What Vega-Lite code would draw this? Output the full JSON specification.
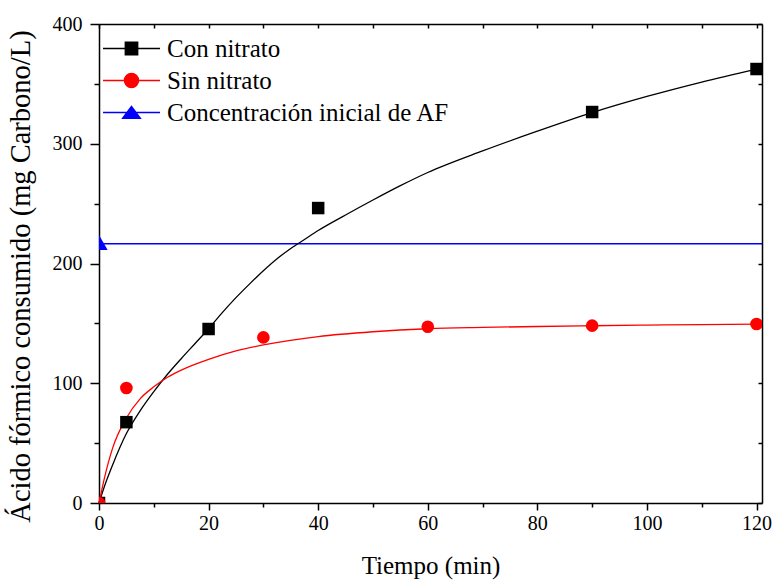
{
  "$schema": "https://vega.github.io/schema/vega-lite/v6.json",
  "width": 663,
  "height": 479,
  "autosize": {"type": "none"},
  "padding": {"left": 99, "top": 24, "right": 14, "bottom": 77},
  "background": "white",
  "config": {
    "view": {"stroke": null},
    "font": "Liberation Serif",
    "axis": {
      "domainColor": "black", "domainWidth": 1.5, "tickColor": "black", "tickWidth": 1.5,
      "grid": false, "labelFont": "Liberation Serif", "labelFontSize": 20, "labelColor": "black",
      "titleFont": "Liberation Serif", "titleFontSize": 25, "titleFontWeight": "normal", "titleColor": "black",
      "labelOverlap": false, "labelFlush": false
    }
  },
  "datasets": {
    "sq": [
      {"serie": "Con nitrato", "t": 0, "c": 0},
      {"serie": "Con nitrato", "t": 5, "c": 67.5},
      {"serie": "Con nitrato", "t": 20, "c": 145.3},
      {"serie": "Con nitrato", "t": 40, "c": 246.3},
      {"serie": "Con nitrato", "t": 90, "c": 326.5},
      {"serie": "Con nitrato", "t": 120, "c": 362.4}
    ],
    "ci": [
      {"serie": "Sin nitrato", "t": 0, "c": 0},
      {"serie": "Sin nitrato", "t": 5, "c": 96},
      {"serie": "Sin nitrato", "t": 30, "c": 138.3},
      {"serie": "Sin nitrato", "t": 60, "c": 147.2},
      {"serie": "Sin nitrato", "t": 90, "c": 148.1},
      {"serie": "Sin nitrato", "t": 120, "c": 149.5}
    ],
    "tri": [
      {"serie": "Concentración inicial de AF", "t": 0, "c": 217.5}
    ],
    "fit": [
      {"serie": "Con nitrato", "t": 0, "c": 0},
      {"serie": "Con nitrato", "t": 1, "c": 14},
      {"serie": "Con nitrato", "t": 2.5, "c": 32},
      {"serie": "Con nitrato", "t": 5, "c": 58},
      {"serie": "Con nitrato", "t": 7.5, "c": 77},
      {"serie": "Con nitrato", "t": 10, "c": 93},
      {"serie": "Con nitrato", "t": 12.5, "c": 107.5},
      {"serie": "Con nitrato", "t": 15, "c": 120.5},
      {"serie": "Con nitrato", "t": 17.5, "c": 133},
      {"serie": "Con nitrato", "t": 20, "c": 145.5},
      {"serie": "Con nitrato", "t": 22.5, "c": 159},
      {"serie": "Con nitrato", "t": 25, "c": 171.5},
      {"serie": "Con nitrato", "t": 27.5, "c": 183},
      {"serie": "Con nitrato", "t": 30, "c": 194},
      {"serie": "Con nitrato", "t": 32.5, "c": 204},
      {"serie": "Con nitrato", "t": 35, "c": 212.5},
      {"serie": "Con nitrato", "t": 37.5, "c": 220},
      {"serie": "Con nitrato", "t": 40, "c": 227.5},
      {"serie": "Con nitrato", "t": 45, "c": 240.5},
      {"serie": "Con nitrato", "t": 50, "c": 253},
      {"serie": "Con nitrato", "t": 55, "c": 265},
      {"serie": "Con nitrato", "t": 60, "c": 276},
      {"serie": "Con nitrato", "t": 70, "c": 294},
      {"serie": "Con nitrato", "t": 80, "c": 310.5},
      {"serie": "Con nitrato", "t": 90, "c": 326},
      {"serie": "Con nitrato", "t": 100, "c": 339.5},
      {"serie": "Con nitrato", "t": 110, "c": 351.5},
      {"serie": "Con nitrato", "t": 120, "c": 362.4},
      {"serie": "Sin nitrato", "t": 0, "c": 0},
      {"serie": "Sin nitrato", "t": 1, "c": 21},
      {"serie": "Sin nitrato", "t": 2.5, "c": 46},
      {"serie": "Sin nitrato", "t": 5, "c": 71},
      {"serie": "Sin nitrato", "t": 7.5, "c": 87},
      {"serie": "Sin nitrato", "t": 10, "c": 97},
      {"serie": "Sin nitrato", "t": 12.5, "c": 105},
      {"serie": "Sin nitrato", "t": 15, "c": 111},
      {"serie": "Sin nitrato", "t": 20, "c": 120},
      {"serie": "Sin nitrato", "t": 25, "c": 127},
      {"serie": "Sin nitrato", "t": 30, "c": 132},
      {"serie": "Sin nitrato", "t": 40, "c": 139},
      {"serie": "Sin nitrato", "t": 50, "c": 143},
      {"serie": "Sin nitrato", "t": 60, "c": 145.5},
      {"serie": "Sin nitrato", "t": 70, "c": 146.6},
      {"serie": "Sin nitrato", "t": 80, "c": 147.4},
      {"serie": "Sin nitrato", "t": 90, "c": 148},
      {"serie": "Sin nitrato", "t": 100, "c": 148.6},
      {"serie": "Sin nitrato", "t": 110, "c": 149},
      {"serie": "Sin nitrato", "t": 120, "c": 149.4}
    ],
    "ref": [
      {"serie": "Concentración inicial de AF", "c": 216.5}
    ]
  },
  "layer": [
    {
      "data": {"name": "ref"},
      "mark": {"type": "rule", "color": "#0000ff", "strokeWidth": 1.5},
      "encoding": {
        "y": {"field": "c", "type": "quantitative", "axis": null}
      }
    },
    {
      "data": {"name": "tri"},
      "mark": {"type": "point", "filled": true, "opacity": 1, "clip": true, "shape": "triangle-up", "size": 300},
      "encoding": {
        "x": {"field": "t", "type": "quantitative", "axis": null},
        "y": {"field": "c", "type": "quantitative", "axis": null},
        "color": {
          "field": "serie", "type": "nominal",
          "scale": {"domain": ["Con nitrato", "Sin nitrato", "Concentración inicial de AF"], "range": ["#000000", "#ff0000", "#0000ff"]},
          "legend": {
            "orient": "none", "legendX": 4, "legendY": 12, "title": null, "padding": 0,
            "rowPadding": 6, "symbolSize": 169, "labelOffset": 39,
            "labelFontSize": 25, "labelFont": "Liberation Serif", "labelColor": "black", "labelLimit": 600,
            "symbolType": {"expr": "datum.value === 'Con nitrato' ? 'M-1.92,0H6.85M1.5,-0.96H3.42V0.96H1.5Z' : datum.value === 'Sin nitrato' ? 'M-1.92,0H6.85M3.55,0A1.09,1.09,0,1,1,1.37,0A1.09,1.09,0,1,1,3.55,0Z' : 'M-1.92,0H6.85M2.46,-0.95L3.84,0.9H1.08Z'"},
            "symbolStrokeColor": {"expr": "scale('color', datum.value)"},
            "symbolStrokeWidth": 1.3,
            "symbolOpacity": 1
          }
        }
      }
    },
    {
      "data": {"name": "fit"},
      "mark": {"type": "line", "interpolate": "monotone", "strokeWidth": 1.3},
      "encoding": {
        "x": {
          "field": "t", "type": "quantitative",
          "scale": {"domain": [0, 121], "nice": false, "zero": false},
          "axis": {
            "orient": "bottom",
            "values": [0, 10, 20, 30, 40, 50, 60, 70, 80, 90, 100, 110, 120],
            "labelExpr": "datum.value % 20 === 0 ? datum.label : ''",
            "tickSize": {"condition": {"test": "datum.value % 20 === 0", "value": 7}, "value": 4},
            "labelPadding": 3,
            "title": "Tiempo (min)",
            "titlePadding": 20
          }
        },
        "y": {
          "field": "c", "type": "quantitative",
          "scale": {"domain": [0, 400], "nice": false},
          "axis": {
            "orient": "left",
            "values": [0, 50, 100, 150, 200, 250, 300, 350, 400],
            "labelExpr": "datum.value % 100 === 0 ? datum.label : ''",
            "tickSize": {"condition": {"test": "datum.value % 100 === 0", "value": 9}, "value": 5},
            "labelPadding": 8,
            "title": "Ácido fórmico consumido (mg Carbono/L)",
            "titleFontSize": 28.5,
            "titlePadding": 17,
            "titleY": 252
          }
        },
        "color": {"field": "serie", "type": "nominal", "legend": null}
      }
    },
    {
      "data": {"name": "sq"},
      "mark": {"type": "point", "filled": true, "opacity": 1, "clip": true, "shape": "square", "size": 156},
      "encoding": {
        "x": {
          "field": "t", "type": "quantitative",
          "axis": {
            "orient": "top",
            "values": [0, 10, 20, 30, 40, 50, 60, 70, 80, 90, 100, 110, 120],
            "labels": false, "tickSize": -4, "title": null
          }
        },
        "y": {
          "field": "c", "type": "quantitative",
          "axis": {
            "orient": "right",
            "values": [0, 50, 100, 150, 200, 250, 300, 350, 400],
            "labels": false, "tickSize": -4, "title": null
          }
        },
        "color": {"field": "serie", "type": "nominal", "legend": null}
      }
    },
    {
      "data": {"name": "ci"},
      "mark": {"type": "point", "filled": true, "opacity": 1, "clip": true, "shape": "circle", "size": 160},
      "encoding": {
        "x": {"field": "t", "type": "quantitative", "axis": null},
        "y": {"field": "c", "type": "quantitative", "axis": null},
        "color": {"field": "serie", "type": "nominal", "legend": null}
      }
    }
  ],
  "resolve": {"axis": {"x": "independent", "y": "independent"}}
}
